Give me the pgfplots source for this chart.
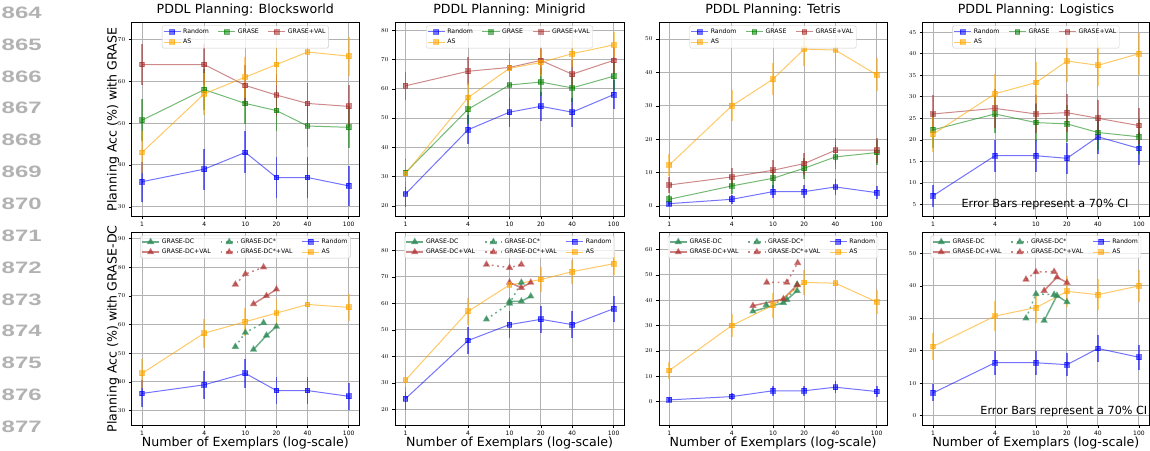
\documentclass[border=0pt]{standalone}
\usepackage{fontspec}
\setmainfont{DejaVu Sans}
\newfontfamily\numfont{Liberation Sans}
\usepackage{graphicx}
\usepackage{pgfplots}
\pgfplotsset{compat=1.18}

\definecolor{cR}{RGB}{0,0,255}
\definecolor{cG}{RGB}{0,128,0}
\definecolor{cV}{RGB}{165,42,42}
\definecolor{cA}{RGB}{255,165,0}
\definecolor{cDG}{RGB}{46,139,87}
\definecolor{cDV}{RGB}{175,50,50}
\definecolor{gridc}{RGB}{178,178,178}
\definecolor{lnum}{RGB}{178,178,178}

\pgfplotsset{
  xtick={1,4,10,20,40,100}, xticklabels={1,4,10,20,40,100},
  grid=major, major grid style={gridc, line width=1pt},
  axis line style={black, line width=0.9pt},
  tick align=outside, major tick length=3pt,
  tick style={black, line width=0.5pt},
  xtick pos=bottom, ytick pos=left,
  tick label style={font=\fontsize{6}{7}\selectfont},
  title style={font=\fontsize{12.6}{14}\selectfont, at={(0.5,1)}, anchor=base, yshift=3.4pt},
  label style={font=\fontsize{12.6}{14}\selectfont},
  legend cell align=left,
  legend style={font=\fontsize{6.2}{7}\selectfont, draw=black!20, rounded corners=1.5pt,
    fill=white, fill opacity=0.8, text opacity=1, draw opacity=1,
    at={(0.5,0.985)}, anchor=north, inner sep=1pt,
    /tikz/every even column/.append style={column sep=7pt}},
  errs/.style={error bars/y dir=both, error bars/y explicit, error bars/error mark=none,
    error bars/error bar style={line width=1.8pt, color=#1, opacity=0.55}},
  sR/.style={color=cR, opacity=0.55, line width=1pt, mark=square*, mark size=2.4pt, mark options={solid}, errs=cR},
  sG/.style={color=cG, opacity=0.55, line width=1pt, mark=square*, mark size=2.4pt, mark options={solid}, errs=cG},
  sV/.style={color=cV, opacity=0.55, line width=1pt, mark=square*, mark size=2.4pt, mark options={solid}, errs=cV},
  sA/.style={color=cA, opacity=0.6, line width=1pt, mark=square*, mark size=2.4pt, mark options={solid}, errs=cA},
  sDG/.style={color=cDG, opacity=0.7, line width=1.5pt, mark=triangle*, mark size=2.8pt, mark options={solid}},
  sDGs/.style={color=cDG, opacity=0.7, line width=1.5pt, dash pattern=on 1.8pt off 3.6pt, mark=triangle*, mark size=2.8pt, mark options={solid}},
  sDV/.style={color=cDV, opacity=0.6, line width=1.5pt, mark=triangle*, mark size=2.8pt, mark options={solid}},
  sDVs/.style={color=cDV, opacity=0.6, line width=1.5pt, dash pattern=on 1.8pt off 3.6pt, mark=triangle*, mark size=2.8pt, mark options={solid}},
}

\begin{document}
\begin{tikzpicture}
\useasboundingbox (0,0) rectangle (1150pt,450pt);
% line numbers
\foreach \n [count=\i from 0] in {864,865,866,867,868,869,870,871,872,873,874,875,876,877} {
  \pgfmathsetmacro{\yy}{450-12.7-31.85*\i}
  \node[text=lnum, inner sep=0pt, anchor=center] at (21.7pt,\yy pt)
    {\scalebox{1.45}[1]{\numfont\bfseries\fontsize{16.5}{17}\selectfont\n}};
}

% ================= TOP ROW =================
\begin{axis}[scale only axis, anchor=south west, xmode=log, xmin=0.7943, xmax=125.89,
  at={(131.7pt,234pt)}, width=227.3pt, height=193.3pt,
  ymin=27.8, ymax=74, ytick={30,40,50,60,70},
  title={PDDL Planning: Blocksworld},
  ylabel={Planning Acc (\%) with GRASE},
  ylabel style={at={(axis description cs:-0.082,0.5)}, anchor=center},
  legend columns=3]
\addplot[sR] coordinates {(1,36)+-(0,4.8) (4,39)+-(0,4.9) (10,43)+-(0,5.0) (20,37)+-(0,4.8) (40,37)+-(0,4.8) (100,35)+-(0,4.8)};
\addplot[sG] coordinates {(1,50.7)+-(0,5) (4,58)+-(0,4.9) (10,54.7)+-(0,5) (20,53)+-(0,5) (40,49.3)+-(0,5) (100,49)+-(0,5)};
\addplot[sV] coordinates {(1,64)+-(0,4.8) (4,64)+-(0,4.8) (10,59)+-(0,4.9) (20,56.7)+-(0,5) (40,54.7)+-(0,5) (100,54)+-(0,5)};
\addplot[sA] coordinates {(1,43)+-(0,5) (4,57)+-(0,5) (10,61)+-(0,4.9) (20,64)+-(0,4.8) (40,67)+-(0,4.7) (100,66)+-(0,4.7)};
\legend{Random,GRASE,GRASE+VAL,AS}
\end{axis}

\begin{axis}[scale only axis, anchor=south west, xmode=log, xmin=0.7943, xmax=125.89,
  at={(395pt,234pt)}, width=229pt, height=193.3pt,
  ymin=16.5, ymax=82.6, ytick={20,30,40,50,60,70,80},
  title={PDDL Planning: Minigrid}, legend columns=3]
\addplot[sR] coordinates {(1,24)+-(0,4.3) (4,46)+-(0,5) (10,52)+-(0,5) (20,54)+-(0,5) (40,52)+-(0,5) (100,58)+-(0,4.9)};
\addplot[sG] coordinates {(1,31.3)+-(0,4.6) (4,53)+-(0,5) (10,61.3)+-(0,4.9) (20,62.3)+-(0,4.8) (40,60.3)+-(0,4.9) (100,64.3)+-(0,4.8)};
\addplot[sV] coordinates {(1,61)+-(0,4.9) (4,66)+-(0,4.7) (10,67.3)+-(0,4.7) (20,69.7)+-(0,4.6) (40,65)+-(0,4.8) (100,69.7)+-(0,4.6)};
\addplot[sA] coordinates {(1,31)+-(0,4.6) (4,57)+-(0,5) (10,67)+-(0,4.7) (20,69)+-(0,4.6) (40,72)+-(0,4.5) (100,75)+-(0,4.3)};
\legend{Random,GRASE,GRASE+VAL,AS}
\end{axis}

\begin{axis}[scale only axis, anchor=south west, xmode=log, xmin=0.7943, xmax=125.89,
  at={(659pt,234pt)}, width=228pt, height=193.3pt,
  ymin=-3, ymax=54.9, ytick={0,10,20,30,40,50},
  title={PDDL Planning: Tetris}, legend columns=3]
\addplot[sR] coordinates {(1,0.7)+-(0,0.8) (4,2)+-(0,1.4) (10,4.3)+-(0,2) (20,4.3)+-(0,2) (40,5.7)+-(0,2.3) (100,4)+-(0,2)};
\addplot[sG] coordinates {(1,2)+-(0,1.4) (4,6)+-(0,2.4) (10,8.3)+-(0,2.8) (20,11.3)+-(0,3.2) (40,14.7)+-(0,3.5) (100,16)+-(0,3.7)};
\addplot[sV] coordinates {(1,6.3)+-(0,2.4) (4,8.7)+-(0,2.8) (10,10.7)+-(0,3.1) (20,12.7)+-(0,3.3) (40,16.7)+-(0,3.7) (100,16.7)+-(0,3.7)};
\addplot[sA] coordinates {(1,12.3)+-(0,3.3) (4,30)+-(0,4.6) (10,38)+-(0,4.9) (20,47)+-(0,5) (40,46.7)+-(0,5) (100,39.3)+-(0,4.9)};
\legend{Random,GRASE,GRASE+VAL,AS}
\end{axis}

\begin{axis}[scale only axis, anchor=south west, xmode=log, xmin=0.7943, xmax=125.89,
  at={(922.7pt,234pt)}, width=226.5pt, height=193.3pt,
  ymin=2.3, ymax=47.2, ytick={5,10,15,20,25,30,35,40,45},
  title={PDDL Planning: Logistics}, legend columns=3]
\addplot[sR] coordinates {(1,7)+-(0,2.6) (4,16.3)+-(0,3.7) (10,16.3)+-(0,3.7) (20,15.7)+-(0,3.6) (40,20.7)+-(0,4.1) (100,18)+-(0,3.8)};
\addplot[sG] coordinates {(1,22.3)+-(0,4.2) (4,26)+-(0,4.4) (10,24)+-(0,4.3) (20,23.7)+-(0,4.3) (40,21.7)+-(0,4.1) (100,20.7)+-(0,4.1)};
\addplot[sV] coordinates {(1,26)+-(0,4.4) (4,27.3)+-(0,4.5) (10,26)+-(0,4.4) (20,26.3)+-(0,4.4) (40,25)+-(0,4.3) (100,23.3)+-(0,4.2)};
\addplot[sA] coordinates {(1,21.3)+-(0,4.1) (4,30.7)+-(0,4.6) (10,33.3)+-(0,4.7) (20,38.3)+-(0,4.9) (40,37.3)+-(0,4.8) (100,40)+-(0,4.9)};
\legend{Random,GRASE,GRASE+VAL,AS}
\node[font=\fontsize{11.2}{12}\selectfont, anchor=center] at (axis description cs:0.54,0.062) {Error Bars represent a 70\% CI};
\end{axis}

% ================= BOTTOM ROW =================
\begin{axis}[scale only axis, anchor=south west, xmode=log, xmin=0.7943, xmax=125.89,
  at={(131.7pt,25pt)}, width=227.3pt, height=192.3pt,
  ymin=25, ymax=92, ytick={30,40,50,60,70,80,90},
  xlabel={Number of Exemplars (log-scale)},
  xlabel style={at={(axis description cs:0.5,-0.113)}, anchor=base},
  ylabel={Planning Acc (\%) with GRASE-DC},
  ylabel style={at={(axis description cs:-0.082,0.5)}, anchor=center},
  legend columns=3]
\addplot[sDG] coordinates {(12,51.3) (16,56.2) (20,59.3)};
\addplot[sDGs] coordinates {(8,52.3) (10,57.2) (15,60.6)};
\addplot[sR] coordinates {(1,36)+-(0,4.8) (4,39)+-(0,4.9) (10,43)+-(0,5.0) (20,37)+-(0,4.8) (40,37)+-(0,4.8) (100,35)+-(0,4.8)};
\addplot[sDV] coordinates {(12,67.2) (16,70) (20,72.3)};
\addplot[sDVs] coordinates {(8,74) (10,77.6) (15,80)};
\addplot[sA] coordinates {(1,43)+-(0,5) (4,57)+-(0,5) (10,61)+-(0,4.9) (20,64)+-(0,4.8) (40,67)+-(0,4.7) (100,66)+-(0,4.7)};
\legend{GRASE-DC,GRASE-DC*,Random,GRASE-DC+VAL,GRASE-DC*+VAL,AS}
\end{axis}

\begin{axis}[scale only axis, anchor=south west, xmode=log, xmin=0.7943, xmax=125.89,
  at={(395pt,25pt)}, width=229pt, height=192.3pt,
  ymin=14.1, ymax=86.7, ytick={20,30,40,50,60,70,80},
  xlabel={Number of Exemplars (log-scale)},
  xlabel style={at={(axis description cs:0.5,-0.113)}, anchor=base},
  legend columns=3]
\addplot[sDG] coordinates {(10,60.8) (13,60.8) (16,62.7)};
\addplot[sDGs] coordinates {(6,54) (10,60) (13,67.9)};
\addplot[sR] coordinates {(1,24)+-(0,4.3) (4,46)+-(0,5) (10,52)+-(0,5) (20,54)+-(0,5) (40,52)+-(0,5) (100,58)+-(0,4.9)};
\addplot[sDV] coordinates {(10,67.9) (13,65.9) (16,67.9)};
\addplot[sDVs] coordinates {(6,74.7) (10,73.5) (13,74.7)};
\addplot[sA] coordinates {(1,31)+-(0,4.6) (4,57)+-(0,5) (10,67)+-(0,4.7) (20,69)+-(0,4.6) (40,72)+-(0,4.5) (100,75)+-(0,4.3)};
\legend{GRASE-DC,GRASE-DC*,Random,GRASE-DC+VAL,GRASE-DC*+VAL,AS}
\end{axis}

\begin{axis}[scale only axis, anchor=south west, xmode=log, xmin=0.7943, xmax=125.89,
  at={(659pt,25pt)}, width=228pt, height=192.3pt,
  ymin=-9.2, ymax=66.6, ytick={0,10,20,30,40,50,60},
  xlabel={Number of Exemplars (log-scale)},
  xlabel style={at={(axis description cs:0.5,-0.113)}, anchor=base},
  legend columns=3]
\addplot[sDG] coordinates {(6.4,35.6) (12.6,39) (17.1,43.7)};
\addplot[sDGs] coordinates {(8.6,38.1) (13.6,40.2) (17.1,46.2)};
\addplot[sR] coordinates {(1,0.7)+-(0,0.8) (4,2)+-(0,1.4) (10,4.3)+-(0,2) (20,4.3)+-(0,2) (40,5.7)+-(0,2.3) (100,4)+-(0,2)};
\addplot[sDV] coordinates {(6.4,37.8) (12.6,40.5) (17.1,46)};
\addplot[sDVs] coordinates {(8.7,47) (13.6,47) (17.3,54.7)};
\addplot[sA] coordinates {(1,12.3)+-(0,3.3) (4,30)+-(0,4.6) (10,38)+-(0,4.9) (20,47)+-(0,5) (40,46.7)+-(0,5) (100,39.3)+-(0,4.9)};
\legend{GRASE-DC,GRASE-DC*,Random,GRASE-DC+VAL,GRASE-DC*+VAL,AS}
\end{axis}

\begin{axis}[scale only axis, anchor=south west, xmode=log, xmin=0.7943, xmax=125.89,
  at={(922.7pt,25pt)}, width=226.5pt, height=192.3pt,
  ymin=-2.9, ymax=56.4, ytick={0,10,20,30,40,50},
  xlabel={Number of Exemplars (log-scale)},
  xlabel style={at={(axis description cs:0.5,-0.113)}, anchor=base},
  legend columns=3]
\addplot[sDG] coordinates {(12,29.3) (16,37) (20,35)};
\addplot[sDGs] coordinates {(8,30) (10,37.5) (15,37.3)};
\addplot[sR] coordinates {(1,7)+-(0,2.6) (4,16.3)+-(0,3.7) (10,16.3)+-(0,3.7) (20,15.7)+-(0,3.6) (40,20.7)+-(0,4.1) (100,18)+-(0,3.8)};
\addplot[sDV] coordinates {(12,38.5) (16,42.7) (20,41)};
\addplot[sDVs] coordinates {(8,42) (10,44.3) (15,44.4)};
\addplot[sA] coordinates {(1,21.3)+-(0,4.1) (4,30.7)+-(0,4.6) (10,33.3)+-(0,4.7) (20,38.3)+-(0,4.9) (40,37.3)+-(0,4.8) (100,40)+-(0,4.9)};
\legend{GRASE-DC,GRASE-DC*,Random,GRASE-DC+VAL,GRASE-DC*+VAL,AS}
\node[font=\fontsize{11.2}{12}\selectfont, anchor=center] at (axis description cs:0.623,0.069) {Error Bars represent a 70\% CI};
\end{axis}
\end{tikzpicture}
\end{document}
